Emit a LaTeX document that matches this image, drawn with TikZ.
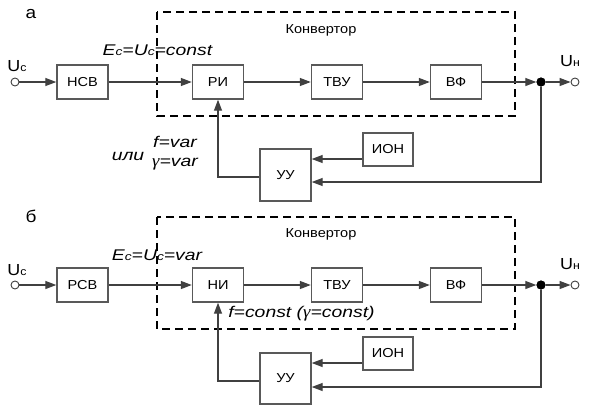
\documentclass[tikz,border=0pt]{standalone}
\usepackage{fontspec}
\setmainfont{Liberation Sans}[FakeStretch=1.12]
\newfontfamily\labfont{Liberation Sans}[FakeStretch=1.25]
\newfontfamily\gfont{Liberation Serif}[FakeStretch=1.1]
\usetikzlibrary{arrows.meta}

\newcommand{\pic}[1]{{\fontsize{11}{11}\selectfont #1}}
\newcommand{\ped}[1]{{\fontsize{11}{11}\selectfont #1}}
\newcommand{\gam}{{\gfont\itshape\fontsize{17}{17}\selectfont γ}}

\tikzset{
  blok/.style={draw=black!65, line width=1.4pt, minimum width=51pt, minimum height=34pt, inner sep=0pt, font=\fontsize{13}{14}\selectfont},
  linea/.style={draw=black!75, line width=1.3pt},
  freccia/.style={linea, -{Triangle[length=11pt,width=8pt]}},
  konv/.style={draw=black, line width=1.6pt, dash pattern=on 8pt off 5pt},
  morsetto/.style={circle, draw=black!75, line width=0.9pt, fill=white, inner sep=0pt, minimum size=8pt},
  nodo/.style={circle, fill=black, inner sep=0pt, minimum size=9pt},
  formula/.style={font=\labfont\itshape\fontsize{15.5}{17}\selectfont, inner sep=0pt},
  etich/.style={font=\fontsize{16}{17}\selectfont, inner sep=0pt},
}

\begin{document}
\begin{tikzpicture}[x=1pt,y=-1pt]
        \useasboundingbox (0,0) rectangle (590,413);
        %% schema a
        % convertitore
        \draw[konv] (157,12) rectangle (515,116);
        \node[font=\fontsize{13}{14}\selectfont] (konv1) at (321,30) {Конвертор};
        \node[font=\fontsize{17}{18}\selectfont] (la) at (31,14) {а};
        % blocchi
        \node[morsetto] (in1) at (15,82) {};
        \node[etich] (uc1) at (17,66) {U\pic{c}};
        \node[blok] (nsv) at (82.5,82) {НСВ};
        \node[blok] (ri) at (218,82) {РИ};
        \node[blok] (tvu1) at (337,82) {ТВУ};
        \node[blok] (vf1) at (456,82) {ВФ};
        \node[nodo] (d1) at (541,82) {};
        \node[morsetto] (out1) at (575,82) {};
        \node[etich] (un1) at (570,61) {U\pic{н}};
        \node[blok, minimum width=50pt, minimum height=33pt] (ion1) at (388,149.5) {ИОН};
        \node[blok, minimum height=52pt] (uu1) at (285.5,175) {УУ};
        % etichette
        \node[formula] (e1) at (157.5,50) {E\ped{c}=U\ped{c}=const};
        \node[formula] (ili) at (128,156) {или};
        \node[formula] (f1) at (175,142) {f=var};
        \node[formula] (g1) at (175,164) {\gam=var};
        % collegamenti
        \draw[freccia] (in1) -- (nsv);
        \draw[freccia] (nsv) -- (ri);
        \draw[freccia] (ri) -- (tvu1);
        \draw[freccia] (tvu1) -- (vf1);
        \draw[freccia] (vf1) -- (d1);
        \draw[freccia] (d1) -- (out1);
        \draw[freccia] (d1) |- ([yshift=-7pt]uu1.east);
        \draw[freccia] ([yshift=-9.5pt]ion1.west) -- ([yshift=-9.5pt]ion1.west -| uu1.east);
        \draw[freccia] ([yshift=-2pt]uu1.west) -| (ri.south);
        \node[nodo] at (d1) {};

        %% schema b
        % convertitore
        \draw[konv] (157,217) rectangle (515,329);
        \node[font=\fontsize{13}{14}\selectfont] (konv2) at (321,234) {Конвертор};
        \node[font=\fontsize{17}{18}\selectfont] (lb) at (31,216) {б};
        % blocchi
        \node[morsetto] (in2) at (15,285) {};
        \node[etich] (uc2) at (17,270) {U\pic{c}};
        \node[blok] (rsv) at (82.5,285) {РСВ};
        \node[blok] (ni) at (218,285) {НИ};
        \node[blok] (tvu2) at (337,285) {ТВУ};
        \node[blok] (vf2) at (456,285) {ВФ};
        \node[nodo] (d2) at (541,285) {};
        \node[morsetto] (out2) at (575,285) {};
        \node[etich] (un2) at (570,264) {U\pic{н}};
        \node[blok, minimum width=50pt, minimum height=33pt] (ion2) at (388,353.5) {ИОН};
        \node[blok, minimum height=51pt] (uu2) at (285.5,378.5) {УУ};
        % etichette
        \node[formula] (e2) at (157,255) {E\ped{c}=U\ped{c}=var};
        \node[formula] (f2) at (301.5,314) {f=const (\gam=const)};
        % collegamenti
        \draw[freccia] (in2) -- (rsv);
        \draw[freccia] (rsv) -- (ni);
        \draw[freccia] (ni) -- (tvu2);
        \draw[freccia] (tvu2) -- (vf2);
        \draw[freccia] (vf2) -- (d2);
        \draw[freccia] (d2) -- (out2);
        \draw[freccia] (d2) |- ([yshift=-8.5pt]uu2.east);
        \draw[freccia] ([yshift=-9.5pt]ion2.west) -- ([yshift=-9.5pt]ion2.west -| uu2.east);
        \draw[freccia] ([yshift=-2.5pt]uu2.west) -| (ni.south);
        \node[nodo] at (d2) {};
\end{tikzpicture}
\end{document}
